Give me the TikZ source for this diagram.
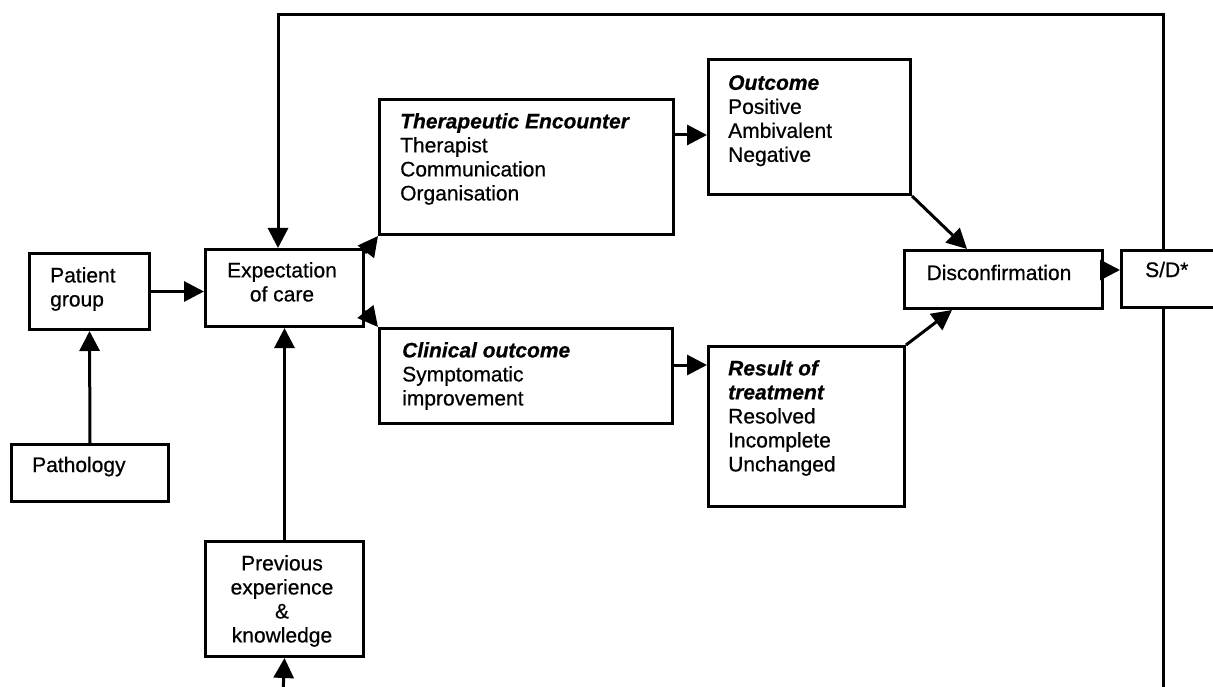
\documentclass[tikz,border=0pt]{standalone}
\usepackage{fontspec}
\setmainfont{Liberation Sans}[FakeBold=0.6]
\usetikzlibrary{arrows.meta,calc}
\begin{document}
\begin{tikzpicture}[x=1pt,y=-1pt,
  box/.style={draw=black,line width=3pt,rectangle,inner sep=0pt,anchor=north west},
  txt/.style={inner sep=0pt,align=left,font=\fontsize{21}{24}\selectfont},
  ctxt/.style={inner sep=0pt,align=center,font=\fontsize{21}{24}\selectfont},
  conn/.style={line width=3pt,-{Triangle[length=20pt,width=20pt]}},
  plain/.style={line width=3pt}]
\useasboundingbox (0,0) rectangle (1213,687);
\clip (0,0) rectangle (1213,687);
\fill[white] (0,0) rectangle (1213,687);
% boxes
\node[box,minimum width=120pt,minimum height=76pt] (pg) at (28,252) {};
\node[box,minimum width=158pt,minimum height=77pt] (exp) at (204,248) {};
\node[box,minimum width=157pt,minimum height=57pt] (path) at (10,443) {};
\node[box,minimum width=158pt,minimum height=115pt] (prev) at (204,540) {};
\node[box,minimum width=294pt,minimum height=135pt] (te) at (378,98) {};
\node[box,minimum width=202pt,minimum height=135pt] (out) at (707,58) {};
\node[box,minimum width=293pt,minimum height=95pt] (co) at (378,327) {};
\node[box,minimum width=196pt,minimum height=160pt] (rt) at (707,345) {};
\node[box,minimum width=198pt,minimum height=58pt] (disc) at (903,249) {};
\node[box,minimum width=110pt,minimum height=57pt] (sd) at (1120,249) {};
% texts
\node[txt,anchor=north west] (pgt) at (50,267) {Patient\\group};
\node[ctxt,anchor=north] (expt) at (282,262) {Expectation\\of care};
\node[txt,anchor=base west] (patht) at (32,472) {Pathology};
\node[ctxt,anchor=north] (prevt) at (282,555) {Previous\\experience\\\&\\knowledge};
\node[txt,anchor=north west] (tet) at (400,113) {\textbf{\textit{Therapeutic Encounter}}\\Therapist\\Communication\\Organisation};
\node[txt,anchor=north west] (outt) at (728,75) {\textbf{\textit{Outcome}}\\Positive\\Ambivalent\\Negative};
\node[txt,anchor=north west] (cot) at (402,342) {\textbf{\textit{Clinical outcome}}\\Symptomatic\\improvement};
\node[txt,anchor=north west] (rtt) at (728,360) {\textbf{\textit{Result of}}\\\textbf{\textit{treatment}}\\Resolved\\Incomplete\\Unchanged};
\node[txt,anchor=base] (disct) at (999,280) {Disconfirmation};
\node[txt,anchor=base west] (sdt) at (1145,277) {S/D*};
% coordinates
\coordinate (fbcorner) at (278,15);
\coordinate (sdtop) at (1163,249);
\coordinate (sdbot) at (1163,306);
\coordinate (sdend) at (1163,695);
\coordinate (prevsrc) at (283,695);
\coordinate (teout) at (672,135);
\coordinate (cort) at (672,365);
\coordinate (discsd) at (1101,270);
% connectors
\draw[conn] (path.north) -- (pg.south);
\draw[conn] (pg.east) -- (pg.east -| exp.west);
\draw[conn] (prev.north) -- (exp.south);
\draw[conn] (prevsrc) -- (prev.south);
\draw[conn] ([yshift=-5pt]exp.north east) -- (te.south west);
\draw[conn] ([yshift=17pt]exp.south east) -- (co.north west);
\draw[conn] (teout) -- (teout -| out.west);
\draw[conn] (cort) -- (cort -| rt.west);
\draw[conn] (out.south east) -- ([xshift=64pt]disc.north west);
\draw[conn] (rt.north east) -- ([xshift=49pt]disc.south west);
\draw[conn] (discsd) -- (discsd -| sd.west);
\draw[conn] (sdtop) |- (fbcorner) -- (fbcorner |- exp.north);
\draw[plain] (sdbot) -- (sdend);
\end{tikzpicture}
\end{document}
